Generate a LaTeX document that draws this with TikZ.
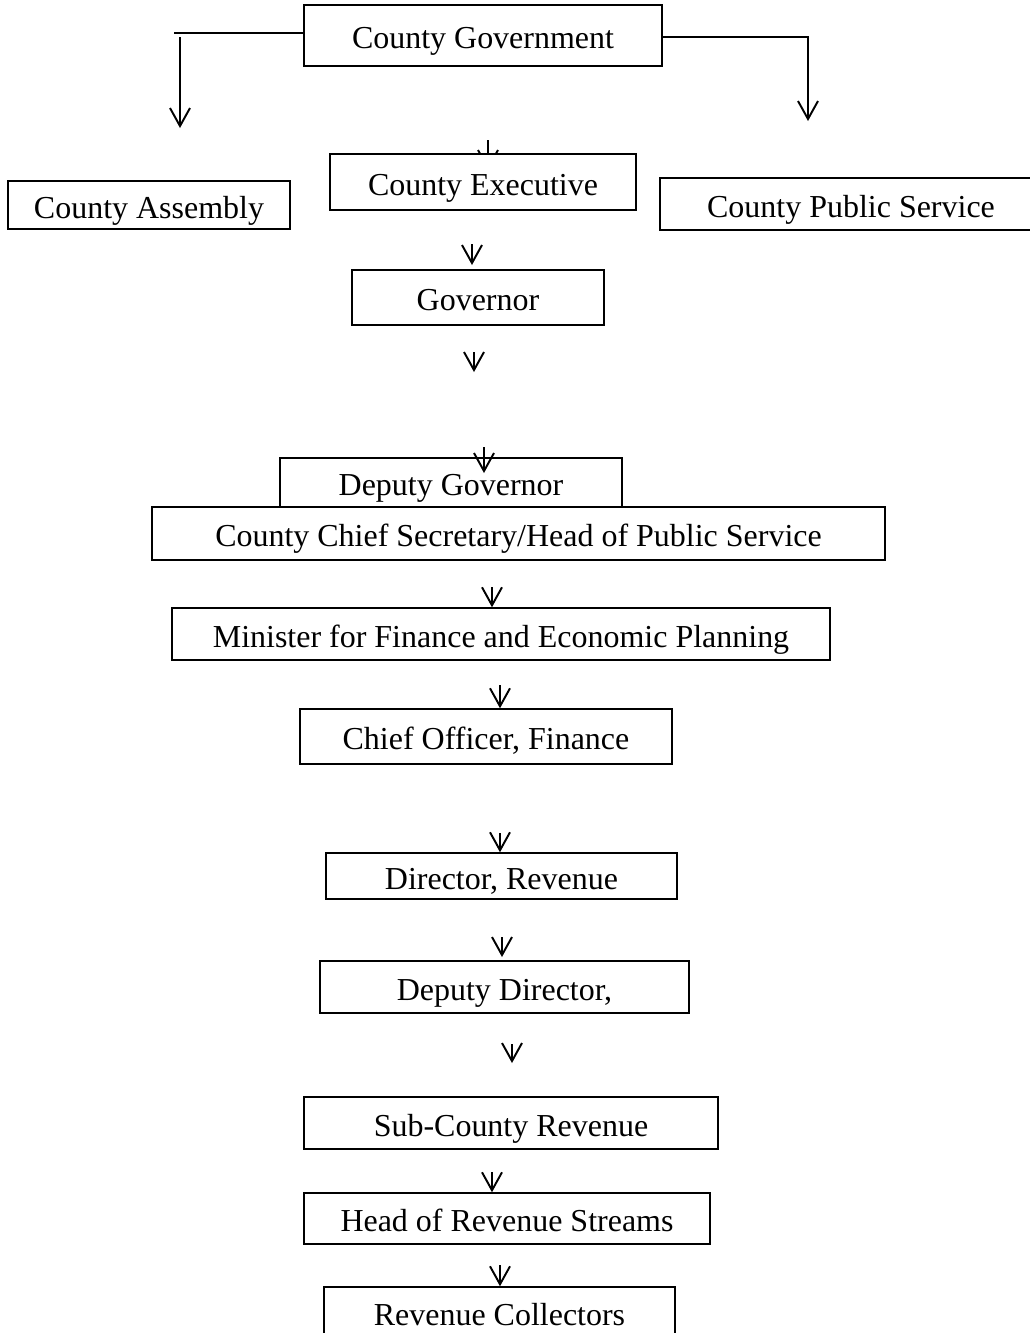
\documentclass[tikz,border=0pt]{standalone}
\usepackage{fontspec}
\setmainfont{Liberation Serif}
\usetikzlibrary{arrows.meta, positioning, backgrounds}

\tikzset{
    box/.style={draw, line width=0.85pt, fill=white, inner sep=0pt, text height=0.6cm, text depth=0.08cm, font=\fontsize{18.2}{22}\selectfont},
    arr/.style={-{Straight Barb[length=0.36cm, width=0.4cm]}, line width=1.1pt},
    link/.style={line width=0.85pt}
}

\begin{document}
\begin{tikzpicture}[x=0.02cm, y=-0.02cm]
\useasboundingbox (0,0) rectangle (1029,1333);
\node[box, minimum width=7.16cm, minimum height=1.22cm] (gov) at (483,35.5) {County Government};
\node[box, minimum width=5.64cm, minimum height=0.96cm] (assembly) at (149,205) {County Assembly};
\node[box, minimum width=6.12cm, minimum height=1.12cm] (exec) at (483,182) {County Executive};
\node[box, minimum width=7.64cm, minimum height=1.04cm] (pubserv) at (851,204) {County Public Service};
\node[box, minimum width=5.04cm, minimum height=1.10cm] (governor) at (478,297.5) {Governor};
\node[box, minimum width=6.84cm, minimum height=0.98cm] (deputy) at (451,482.5) {Deputy Governor};
\node[box, minimum width=14.66cm, minimum height=1.06cm] (chiefsec) at (518.5,533.5) {County Chief Secretary/Head of Public Service};
\node[box, minimum width=13.16cm, minimum height=1.04cm] (minister) at (501,634) {Minister for Finance and Economic Planning};
\node[box, minimum width=7.44cm, minimum height=1.10cm] (chiefoff) at (486,736.5) {Chief Officer, Finance};
\node[box, minimum width=7.02cm, minimum height=0.92cm] (director) at (501.5,876) {Director, Revenue};
\node[box, minimum width=7.38cm, minimum height=1.04cm] (depdir) at (504.5,987) {Deputy Director,};
\node[box, minimum width=8.28cm, minimum height=1.04cm] (subcounty) at (511,1123) {Sub-County Revenue};
\node[box, minimum width=8.12cm, minimum height=1.02cm] (streams) at (507,1218.5) {Head of Revenue Streams};
\node[box, minimum width=7.02cm, minimum height=1.00cm] (collectors) at (499.5,1312) {Revenue Collectors};

\coordinate (lw) at (174,33);
\coordinate (la) at (180,37);
\coordinate (rc) at (808,37);
\draw[link] (gov.west |- lw) -- (lw);
\draw[arr] (la) -- ++(0,91);
\draw[arr] (gov.east |- rc) -- (rc) -- ++(0,84);

\coordinate (s1) at (488,140);
\coordinate (s2) at (472,244);
\coordinate (s3) at (474,352);
\coordinate (s4) at (484,447);
\coordinate (s5) at (492,587);
\coordinate (s6) at (500,685);
\coordinate (s7) at (500,833);
\coordinate (s8) at (502,937);
\coordinate (s9) at (512,1044);
\coordinate (s10) at (492,1172);
\coordinate (s11) at (500,1265);
\begin{scope}[on background layer]
\draw[arr] (s1) -- ++(0,30);
\end{scope}
\draw[arr] (s2) -- ++(0,21);
\draw[arr] (s3) -- ++(0,20);
\draw[arr] (s4) -- ++(0,26);
\draw[arr] (s5) -- (s5 |- minister.north);
\draw[arr] (s6) -- (s6 |- chiefoff.north);
\draw[arr] (s7) -- (s7 |- director.north);
\draw[arr] (s8) -- ++(0,20);
\draw[arr] (s9) -- ++(0,19);
\draw[arr] (s10) -- (s10 |- streams.north);
\draw[arr] (s11) -- (s11 |- collectors.north);
\end{tikzpicture}
\end{document}
